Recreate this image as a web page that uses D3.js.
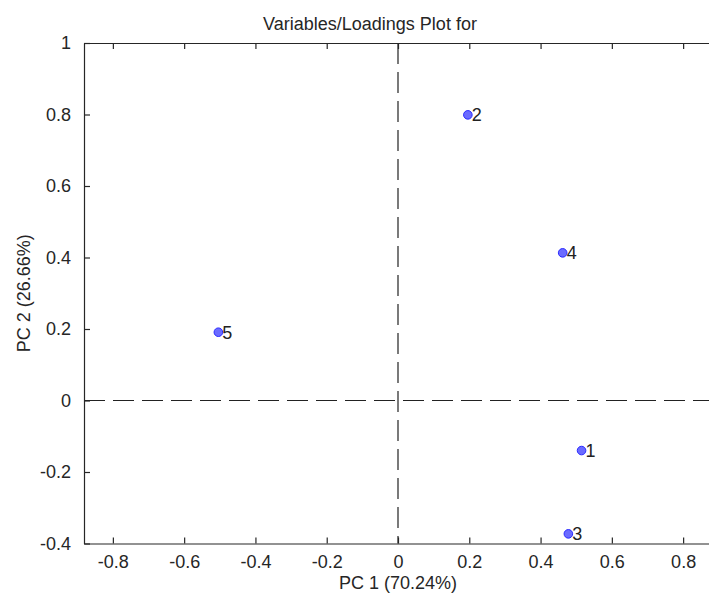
<!DOCTYPE html>
<html>
<head>
<meta charset="utf-8">
<script src="https://cdn.jsdelivr.net/npm/d3@7"></script>
<style>
  html, body { margin: 0; padding: 0; background: #fff; }
  svg { display: block; font-family: "Liberation Sans", Arial, sans-serif; }
</style>
</head>
<body>
<div id="chart"></div>
<script>
// loadings of the five variables on PC1 / PC2
const varLabels = ['1', '2', '3', '4', '5'];
const pc1 = [0.515, 0.196, 0.478, 0.462, -0.504];
const pc2 = [-0.140, 0.799, -0.373, 0.413, 0.191];

const xTicks = [-0.8, -0.6, -0.4, -0.2, 0, 0.2, 0.4, 0.6, 0.8];
const yTicks = [-0.4, -0.2, 0, 0.2, 0.4, 0.6, 0.8, 1];

const titleText = 'Variables/Loadings Plot for';
const xLabel = 'PC 1 (70.24%)';
const yLabel = 'PC 2 (26.66%)';

(function() {
  const width = 709, height = 596;
  const left = 84, right = 712, top = 43, bottom = 543.5;
  const ink = '#262626';

  const svg = d3.select('#chart').append('svg')
    .attr('width', width)
    .attr('height', height);

  const x = d3.scaleLinear().domain([-0.881, 0.881]).range([left, right]);
  const y = d3.scaleLinear().domain([-0.4, 1]).range([bottom, top]);

  // dashed zero lines
  svg.append('line')
    .attr('x1', left).attr('x2', right)
    .attr('y1', y(0)).attr('y2', y(0))
    .attr('stroke', '#222').attr('stroke-width', 1.2)
    .attr('stroke-dasharray', '21,8');
  svg.append('line')
    .attr('x1', x(0)).attr('x2', x(0))
    .attr('y1', top).attr('y2', bottom)
    .attr('stroke', '#222').attr('stroke-width', 1.2)
    .attr('stroke-dasharray', '21,8');

  // bottom axis, ticks pointing inward
  const xAxis = svg.append('g')
    .attr('transform', `translate(0,${bottom})`)
    .call(d3.axisBottom(x).tickValues(xTicks).tickSizeInner(-6).tickSizeOuter(0)
      .tickPadding(12).tickFormat(d => d3.format('')(d).replace('−', '-')));
  // top axis, ticks only
  const xTop = svg.append('g')
    .attr('transform', `translate(0,${top})`)
    .call(d3.axisTop(x).tickValues(xTicks).tickSizeInner(-6).tickSizeOuter(0).tickFormat(''));
  // left axis
  const yAxis = svg.append('g')
    .attr('transform', `translate(${left},0)`)
    .call(d3.axisLeft(y).tickValues(yTicks).tickSizeInner(-6).tickSizeOuter(0)
      .tickPadding(13).tickFormat(d => d3.format('')(d).replace('−', '-')));

  [xAxis, xTop, yAxis].forEach(a => {
    a.select('.domain').attr('stroke', ink).attr('stroke-width', 1.2);
    a.selectAll('.tick line').attr('stroke', ink).attr('stroke-width', 1.2);
    a.selectAll('.tick text')
      .attr('fill', ink)
      .style('font-size', '18px')
      .style('font-family', '"Liberation Sans", Arial, sans-serif');
  });

  // points
  const pts = varLabels.map((lab, i) => ({ lab, px: pc1[i], py: pc2[i] }));
  svg.selectAll('.pt')
    .data(pts)
    .enter()
    .append('circle')
    .attr('class', 'pt')
    .attr('cx', d => x(d.px))
    .attr('cy', d => y(d.py))
    .attr('r', 4.3)
    .attr('fill', '#6b6bff')
    .attr('stroke', '#2a2aff')
    .attr('stroke-width', 1);

  svg.selectAll('.pt-label')
    .data(pts)
    .enter()
    .append('text')
    .attr('class', 'pt-label')
    .attr('x', d => x(d.px) + 4)
    .attr('y', d => y(d.py))
    .attr('dy', '0.36em')
    .attr('fill', '#222')
    .style('font-size', '18px')
    .text(d => d.lab);

  // title and axis labels
  svg.append('text')
    .attr('x', 370)
    .attr('y', 30)
    .attr('text-anchor', 'middle')
    .attr('fill', ink)
    .style('font-size', '18px')
    .text(titleText);

  svg.append('text')
    .attr('x', (left + right) / 2)
    .attr('y', 589)
    .attr('text-anchor', 'middle')
    .attr('fill', ink)
    .style('font-size', '18px')
    .text(xLabel);

  svg.append('text')
    .attr('transform', `translate(30,${(top + bottom) / 2}) rotate(-90)`)
    .attr('text-anchor', 'middle')
    .attr('fill', ink)
    .style('font-size', '18px')
    .text(yLabel);
})();
</script>
</body>
</html>
